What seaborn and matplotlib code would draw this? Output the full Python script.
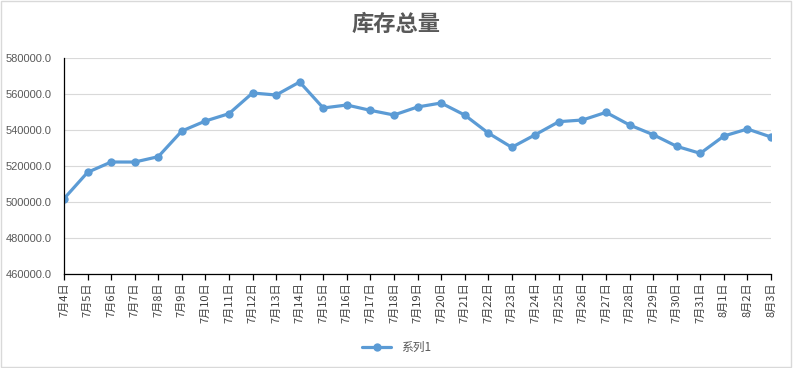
import matplotlib
matplotlib.use("Agg")
import matplotlib.pyplot as plt
import seaborn as sns
import pandas as pd
from matplotlib.patches import Rectangle

# dates 7/4 .. 8/3
dates = [f"7月{d}日" for d in range(4, 32)] + [f"8月{d}日" for d in range(1, 4)]

# total stock
stock = [501850, 516480, 522220, 522200, 525180, 539440, 545000, 549070,
         560560, 559440, 566670, 552220, 553890, 550920, 548330, 552780,
         555000, 548330, 538330, 530370, 537400, 544630, 545550, 549810,
         542770, 537400, 530920, 527030, 536660, 540550, 536110]

yticks = [460000, 480000, 500000, 520000, 540000, 560000, 580000]

df = pd.DataFrame({"date": dates, "stock": stock, "series": "系列1"})
df["pos"] = range(len(df))

sns.set_theme(style="white")
plt.rcParams["font.family"] = ["Noto Sans CJK SC", "DejaVu Sans"]

blue = "#5B9BD5"
grey = "#595959"

fig = plt.figure(figsize=(7.93, 3.68), dpi=100)
ax = fig.add_axes([64 / 793, 1 - 274 / 368, (771 - 64) / 793, (274 - 58) / 368])

sns.lineplot(data=df, x="pos", y="stock", hue="series", palette=[blue],
             marker="o", markersize=6, markeredgewidth=0, linewidth=2.3,
             ax=ax)

ax.set_xlim(0, len(dates) - 1)
ax.set_ylim(460000, 580000)
ax.set_yticks(yticks)
ax.set_yticklabels([f"{v:.1f}" for v in yticks], fontsize=8, color=grey,
                   family=["Liberation Sans", "DejaVu Sans"])
ax.set_xticks(range(len(dates)))
ax.set_xticklabels(dates, rotation=90, fontsize=8, color="#404040")
ax.set_xlabel("")
ax.set_ylabel("")

ax.grid(axis="y", color="#D9D9D9", linewidth=0.8)
ax.set_axisbelow(True)
for s in ["top", "right"]:
    ax.spines[s].set_visible(False)
ax.spines["left"].set_color("black")
ax.spines["left"].set_linewidth(0.9)
ax.spines["bottom"].set_color("black")
ax.spines["bottom"].set_linewidth(0.9)
ax.tick_params(axis="x", bottom=True, length=4, width=0.9, color="black", pad=2)
ax.tick_params(axis="y", left=False, pad=3)

fig.text(0.5, 1 - 24 / 368, "库存总量", ha="center", va="center",
         fontsize=16, fontweight="bold", color=grey)

leg = ax.legend(loc="center", bbox_to_anchor=(0.47, -0.34), frameon=False,
                fontsize=8.5, handlelength=2.5)
for t in leg.get_texts():
    t.set_color(grey)

fig.patches.append(Rectangle((0.001, 0.003), 0.997, 0.994, transform=fig.transFigure,
                             fill=False, edgecolor="#D9D9D9", linewidth=1))

fig.savefig("out.png", dpi=100, facecolor="white")
